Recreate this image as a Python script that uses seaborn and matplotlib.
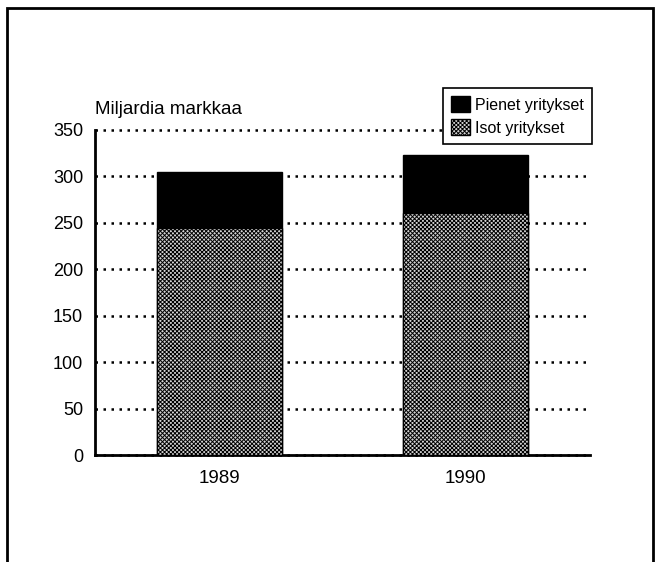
import numpy as np
import pandas as pd
import matplotlib
matplotlib.use("Agg")
import matplotlib.pyplot as plt
import seaborn as sns
from matplotlib.patches import Patch, Rectangle

years = ["1989", "1990"]
isot = [244, 261]
pienet = [61, 62]
ylabel_text = "Miljardia markkaa"
legend_labels = ["Pienet yritykset", "Isot yritykset"]

sns.set_style("white")
plt.rcParams["font.family"] = ["Liberation Sans", "DejaVu Sans"]
plt.rcParams["text.color"] = "black"
plt.rcParams["xtick.color"] = "black"
plt.rcParams["ytick.color"] = "black"
plt.rcParams["hatch.color"] = "#3a3a3a"
plt.rcParams["hatch.linewidth"] = 0.7

df = pd.DataFrame({"vuosi": years, "isot": isot,
                   "yhteensa": np.array(isot) + np.array(pienet)})

fig = plt.figure(figsize=(6.59, 5.62), dpi=100)
ax = fig.add_axes([95 / 659, 1 - 455 / 562, (590 - 95) / 659, (455 - 130) / 562])

# total (black) first, big companies drawn on top
sns.barplot(data=df, x="vuosi", y="yhteensa", color="black", width=0.508,
            saturation=1, edgecolor="black", linewidth=1, ax=ax, zorder=3)
sns.barplot(data=df, x="vuosi", y="isot", color="#d4d4d4", width=0.508,
            saturation=1, edgecolor="black", linewidth=1, ax=ax, zorder=3)
for p in ax.patches[2:]:
    p.set_hatch("xxxxxxxx")

ax.set_xlim(-0.506, 1.506)
ax.set_ylim(0, 350)
ax.set_yticks(range(0, 351, 50))
ax.yaxis.grid(True, linestyle=(0, (1, 2.2)), color="black", linewidth=1.8, zorder=0)
for gl in ax.get_ygridlines():
    gl.set_clip_on(False)
ax.set_axisbelow(True)
ax.set_xlabel("")
ax.set_ylabel("")
for s in ["top", "right"]:
    ax.spines[s].set_visible(False)
for s in ["left", "bottom"]:
    ax.spines[s].set_color("black")
    ax.spines[s].set_linewidth(2)
ax.tick_params(axis="y", left=False, labelsize=13, pad=5)
ax.tick_params(axis="x", bottom=False, labelsize=13.5, pad=7)

fig.text(95 / 659, 1 - 110 / 562, ylabel_text, fontsize=13.5, va="center", ha="left")

handles = [Patch(facecolor="black", edgecolor="black"),
           Patch(facecolor="#d4d4d4", edgecolor="black", hatch="xxxxxxxx")]
leg = fig.legend(handles, legend_labels, loc="upper left",
                 bbox_to_anchor=(443 / 659, 1 - 88 / 562), borderaxespad=0,
                 frameon=True, framealpha=1, fontsize=11.5, handlelength=1.2,
                 handleheight=1.2, handletextpad=0.3, labelspacing=0.4,
                 borderpad=0.5, fancybox=False, edgecolor="black")
leg.get_frame().set_linewidth(1.2)
leg.set_zorder(10)

# outer frame around the whole figure
fig.patches.append(Rectangle((7 / 659, -0.05), (653 - 7) / 659, 1.05 - 8 / 562,
                             transform=fig.transFigure, fill=False,
                             edgecolor="black", linewidth=2))

fig.savefig("out.png", dpi=100)
